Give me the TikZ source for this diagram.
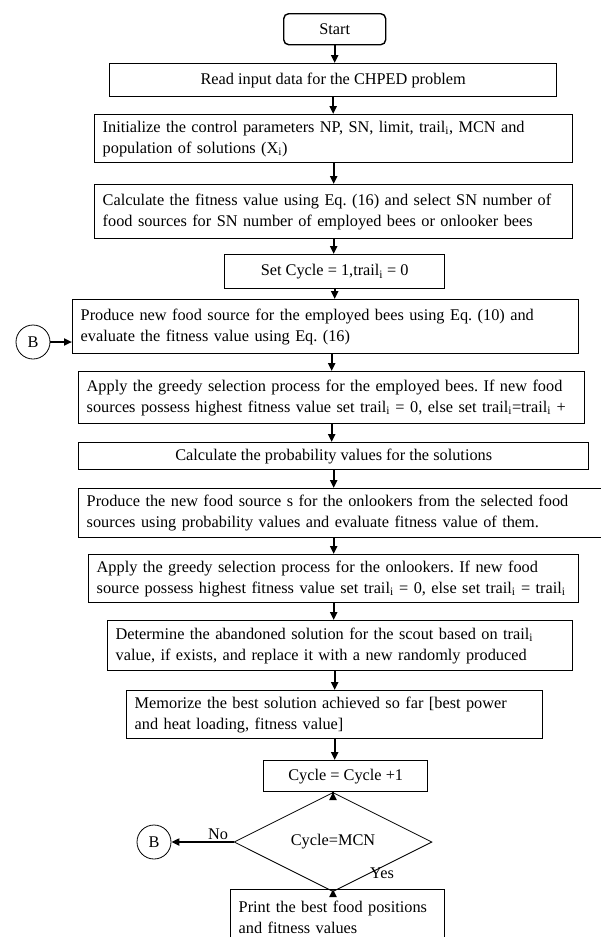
\documentclass[tikz,border=0pt]{standalone}
\usepackage{fontspec}
\setmainfont{Liberation Serif}
\usetikzlibrary{arrows.meta,shapes.geometric}

\begin{document}
\frenchspacing
\begin{tikzpicture}[x=1pt,y=-1pt,font=\fontsize{16.3}{21}\selectfont,
  stepbox/.style={draw,line width=1.4pt,anchor=north west,inner sep=0pt,align=center},
  procbox/.style={draw,line width=1.4pt,anchor=north west,inner xsep=8pt,inner ysep=0pt,align=left},
  conn/.style={-{Triangle[length=8pt,width=7pt]},line width=2pt},
  jump/.style={draw,circle,line width=0.8pt,minimum size=34pt,inner sep=0pt}]
\useasboundingbox (0,0) rectangle (601,937);
\clip (0,0) rectangle (601,937);
\node[stepbox,rounded corners=5pt,minimum width=102pt,minimum height=31pt] (start) at (283,13) {Start};
\node[stepbox,minimum width=447pt,minimum height=33pt] (read) at (109,63) {Read input data for the CHPED problem};
\node[procbox,text width=462pt,minimum height=48pt] (init) at (94,114) {Initialize the control parameters NP, SN, limit, trail\textsubscript{i}, MCN and\\population of solutions (X\textsubscript{i})};
\node[procbox,text width=462pt,minimum height=54pt] (fitness) at (94,184) {Calculate the fitness value using Eq. (16) and select SN number of\\food sources for SN number of employed bees or onlooker bees};
\node[stepbox,minimum width=220pt,minimum height=34pt] (setcycle) at (224,254) {Set Cycle = 1,trail\textsubscript{i} = 0};
\node[procbox,text width=490pt,minimum height=54pt] (employed) at (72,299) {Produce new food source for the employed bees using Eq. (10) and\\evaluate the fitness value using Eq. (16)};
\node[procbox,text width=490pt,minimum height=52pt] (greedyemp) at (78,371) {Apply the greedy selection process for the employed bees. If new food\\sources possess highest fitness value set trail\textsubscript{i} = 0, else set trail\textsubscript{i}=trail\textsubscript{i} +};
\node[stepbox,minimum width=510pt,minimum height=27pt] (prob) at (78,442) {Calculate the probability values for the solutions};
\node[procbox,text width=519pt,minimum height=49pt] (onlook) at (78,488) {Produce the new food source s for the onlookers from the selected food\\sources using probability values and evaluate fitness value of them.};
\node[procbox,text width=474pt,minimum height=48pt] (greedyonl) at (88,554) {Apply the greedy selection process for the onlookers. If new food\\source possess highest fitness value set trail\textsubscript{i} = 0, else set trail\textsubscript{i} = trail\textsubscript{i}};
\node[procbox,text width=449pt,minimum height=50pt] (scout) at (107,620) {Determine the abandoned solution for the scout based on trail\textsubscript{i}\\value, if exists, and replace it with a new randomly produced};
\node[procbox,text width=400pt,minimum height=48pt] (memo) at (126,690) {Memorize the best solution achieved so far [best power\\and heat loading, fitness value]};
\node[stepbox,minimum width=164pt,minimum height=31pt] (cycleinc) at (263,760) {Cycle = Cycle +1};
\node[draw,diamond,line width=0.8pt,minimum width=198pt,minimum height=55pt,inner sep=0pt] (check) at (333,842) {Cycle=MCN};
\node[procbox,text width=198pt,minimum height=56pt] (print) at (230,889) {Print the best food positions\\and fitness values};
\node[jump] (bin) at (33,342) {B};
\node[jump] (bout) at (154,842) {B};
\node (yes) at (382,873) {Yes};
\draw[conn] (start.south) -- (start.south |- read.north);
\draw[conn] (read.south) -- (read.south |- init.north);
\draw[conn] (init.south) -- (init.south |- fitness.north);
\draw[conn] (fitness.south) -- (fitness.south |- setcycle.north);
\draw[conn] (setcycle.south) -- (setcycle.south |- employed.north);
\draw[conn] (greedyemp.north |- employed.south) -- (greedyemp.north);
\draw[conn] (greedyemp.south) -- (greedyemp.south |- prob.north);
\draw[conn] (prob.south) -- (prob.south |- onlook.north);
\draw[conn] (greedyonl.north |- onlook.south) -- (greedyonl.north);
\draw[conn] (greedyonl.south) -- (greedyonl.south |- scout.north);
\draw[conn] (memo.north |- scout.south) -- (memo.north);
\draw[conn] (memo.south) -- (memo.south |- cycleinc.north);
\draw[conn] (check.north |- cycleinc.south) -- (check.north);
\draw[conn] (check.south) -- (check.south |- print.north);
\draw[conn] (check.west) -- (bout.east) node[pos=0.25,above,inner sep=1pt] {No};
\draw[conn] (bin.east) -- (bin.east -| employed.west);
\end{tikzpicture}
\end{document}
